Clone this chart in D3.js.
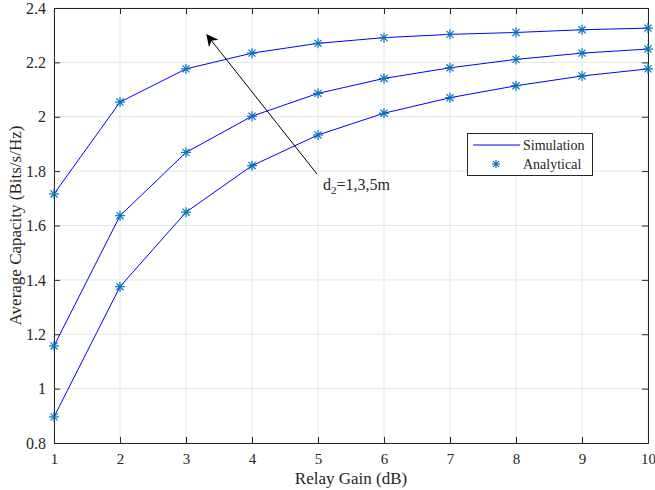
<!DOCTYPE html>
<html><head><meta charset="utf-8">
<script src="https://cdn.jsdelivr.net/npm/d3@7"></script>
<style>body{margin:0;background:#fff}svg{display:block}text{font-family:"Liberation Serif","Times New Roman",serif;fill:#262626}</style>
</head><body><svg id="c" width="655" height="490"></svg>
<script>
const gains = [1,2,3,4,5,6,7,8,9,10];
const capD1 = [1.716,2.054,2.176,2.234,2.270,2.291,2.303,2.310,2.320,2.326];
const capD3 = [1.157,1.636,1.869,2.002,2.086,2.141,2.180,2.211,2.234,2.249];
const capD5 = [0.896,1.375,1.649,1.820,1.933,2.013,2.070,2.114,2.150,2.176];
const xTicks = [1,2,3,4,5,6,7,8,9,10];
const yTicks = [0.8,1,1.2,1.4,1.6,1.8,2,2.2,2.4];
const seriesList = [capD1, capD3, capD5];

const svg = d3.select("#c");
const L=54, R=648, T=8, B=443;
const x = d3.scaleLinear().domain([1,10]).range([L,R]);
const y = d3.scaleLinear().domain([0.8,2.4]).range([B,T]);
const axisCol="#262626";

// grid
const g = svg.append("g");
g.selectAll(".gx").data(xTicks).join("line").attr("x1",d=>x(d)).attr("x2",d=>x(d)).attr("y1",T).attr("y2",B).attr("stroke","#e5e5e5").attr("stroke-width",1);
g.selectAll(".gy").data(yTicks).join("line").attr("y1",d=>y(d)).attr("y2",d=>y(d)).attr("x1",L).attr("x2",R).attr("stroke","#e5e5e5").attr("stroke-width",1);

// axes
const fmt = d=>String(d);
svg.append("g").attr("transform",`translate(0,${B})`).call(d3.axisBottom(x).tickValues(xTicks).tickFormat(fmt).tickSizeInner(-6).tickSizeOuter(0).tickPadding(10))
  .call(a=>{a.select(".domain").attr("stroke",axisCol);a.selectAll("line").attr("stroke",axisCol);a.selectAll("text").attr("font-size",15).attr("font-family","Liberation Serif").attr("fill",axisCol);});
svg.append("g").attr("transform",`translate(${L},0)`).call(d3.axisLeft(y).tickValues(yTicks).tickFormat(fmt).tickSizeInner(-6).tickSizeOuter(0).tickPadding(8))
  .call(a=>{a.select(".domain").attr("stroke",axisCol);a.selectAll("line").attr("stroke",axisCol);a.selectAll("text").attr("font-size",16).attr("font-family","Liberation Serif").attr("fill",axisCol);});
svg.append("g").attr("transform",`translate(0,${T})`).call(d3.axisTop(x).tickValues(xTicks).tickFormat("").tickSizeInner(-6).tickSizeOuter(0))
  .call(a=>{a.select(".domain").attr("stroke",axisCol);a.selectAll("line").attr("stroke",axisCol);});
svg.append("g").attr("transform",`translate(${R},0)`).call(d3.axisRight(y).tickValues(yTicks).tickFormat("").tickSizeInner(-6).tickSizeOuter(0))
  .call(a=>{a.select(".domain").attr("stroke",axisCol);a.selectAll("line").attr("stroke",axisCol);});

// lines
const line = d3.line().x((d,i)=>x(gains[i])).y(d=>y(d));
seriesList.forEach(s=>{
  svg.append("path").datum(s).attr("d",line).attr("fill","none").attr("stroke","#0000ff").attr("stroke-width",1);
});

// star marker
function star(sel, cx, cy, r){
  const gg = sel.append("g").attr("stroke","#0072BD").attr("stroke-width",1.2);
  const d = r*0.7071;
  gg.append("line").attr("x1",cx-r).attr("x2",cx+r).attr("y1",cy).attr("y2",cy);
  gg.append("line").attr("x1",cx).attr("x2",cx).attr("y1",cy-r).attr("y2",cy+r);
  gg.append("line").attr("x1",cx-d).attr("x2",cx+d).attr("y1",cy-d).attr("y2",cy+d);
  gg.append("line").attr("x1",cx-d).attr("x2",cx+d).attr("y1",cy+d).attr("y2",cy-d);
}
seriesList.forEach(s=>{ s.forEach((v,i)=>star(svg, x(gains[i]), y(v), 5)); });

// axis titles
svg.append("text").attr("x",(L+R)/2).attr("y",484).attr("text-anchor","middle").attr("font-size",17).text("Relay Gain (dB)");
svg.append("text").attr("transform",`translate(21,${(T+B)/2}) rotate(-90)`).attr("text-anchor","middle").attr("font-size",17).text("Average Capacity (Bits/s/Hz)");

// arrow annotation
svg.append("defs").append("marker").attr("id","ah").attr("viewBox","0 0 10 10").attr("refX",9).attr("refY",5)
  .attr("markerWidth",14).attr("markerHeight",12).attr("markerUnits","userSpaceOnUse").attr("orient","auto")
  .append("path").attr("d","M0,0 L10,5 L0,10 L3,5 Z").attr("fill","#000");
svg.append("line").attr("x1",317).attr("y1",174).attr("x2",207).attr("y2",35).attr("stroke","#000").attr("stroke-width",1).attr("marker-end","url(#ah)");
const t = svg.append("text").attr("x",323).attr("y",190).attr("font-size",16).attr("fill","#000");
t.append("tspan").text("d");
t.append("tspan").attr("font-size",11).attr("dy",4).text("2");
t.append("tspan").attr("dy",-4).text("=1,3,5m");

// legend
svg.append("rect").attr("x",467.5).attr("y",133.5).attr("width",125).attr("height",42).attr("fill","#fff").attr("stroke","#262626").attr("stroke-width",1);
svg.append("line").attr("x1",473).attr("x2",520).attr("y1",145).attr("y2",145).attr("stroke","#0000ff").attr("stroke-width",1);
star(svg, 496, 164, 4);
svg.append("text").attr("x",523).attr("y",150).attr("font-size",14).attr("fill","#000").text("Simulation");
svg.append("text").attr("x",523).attr("y",169).attr("font-size",14).attr("fill","#000").text("Analytical");
</script></body></html>
